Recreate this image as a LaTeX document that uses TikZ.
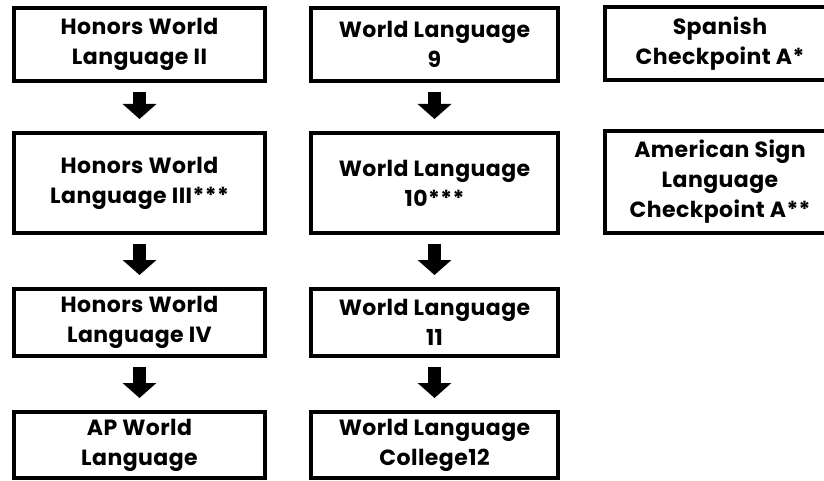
\documentclass[tikz,border=0pt]{standalone}
\usepackage{fontspec}
\setmainfont{Poppins}[LetterSpace=2]
\usepackage{tikz}
\usetikzlibrary{positioning}
\usetikzlibrary{arrows.meta}
\pgfdeclarelayer{nodelayer}
\pgfdeclarelayer{edgelayer}
\pgfsetlayers{nodelayer,edgelayer,main}

\begin{document}
\begin{tikzpicture}[x=1pt, y=-1pt,
        box/.style={draw, line width=4pt, align=center, inner sep=0pt,
            font=\fontsize{22}{30}\selectfont\bfseries},
        down/.style={line width=13pt, -{Triangle[width=33pt, length=15pt]},
            shorten <=9pt, shorten >=12pt}]
        \useasboundingbox (0, 0) rectangle (824, 481);
        \begin{pgfonlayer}{nodelayer}
            \node [box, minimum width=251pt, minimum height=73pt] (0) at (139.5, 44.5) {Honors World\\Language II};
            \node [box, minimum width=251pt, minimum height=100pt] (1) at (139.5, 183) {Honors World\\Language III***};
            \node [box, minimum width=251pt, minimum height=67pt] (2) at (139.5, 322.5) {Honors World\\Language IV};
            \node [box, minimum width=251pt, minimum height=66pt] (3) at (139.5, 445) {AP World\\Language};
            \node [box, minimum width=247pt, minimum height=73pt] (4) at (434.5, 44.5) {World Language\\9};
            \node [box, minimum width=247pt, minimum height=100pt] (5) at (434.5, 183) {World Language\\10***};
            \node [box, minimum width=247pt, minimum height=67pt] (6) at (434.5, 322.5) {World Language\\11};
            \node [box, minimum width=247pt, minimum height=66pt] (7) at (434.5, 445) {World Language\\College12};
            \node [box, minimum width=230pt, minimum height=73pt] (8) at (720, 43.5) {Spanish\\Checkpoint A*};
            \node [box, minimum width=230pt, minimum height=102pt] (9) at (720, 182) {American Sign\\Language\\Checkpoint A**};
        \end{pgfonlayer}
        \begin{pgfonlayer}{edgelayer}
            \draw [down] (0) to (1);
            \draw [down] (1) to (2);
            \draw [down] (2) to (3);
            \draw [down] (4) to (5);
            \draw [down] (5) to (6);
            \draw [down] (6) to (7);
        \end{pgfonlayer}
    \end{tikzpicture}
\end{document}
